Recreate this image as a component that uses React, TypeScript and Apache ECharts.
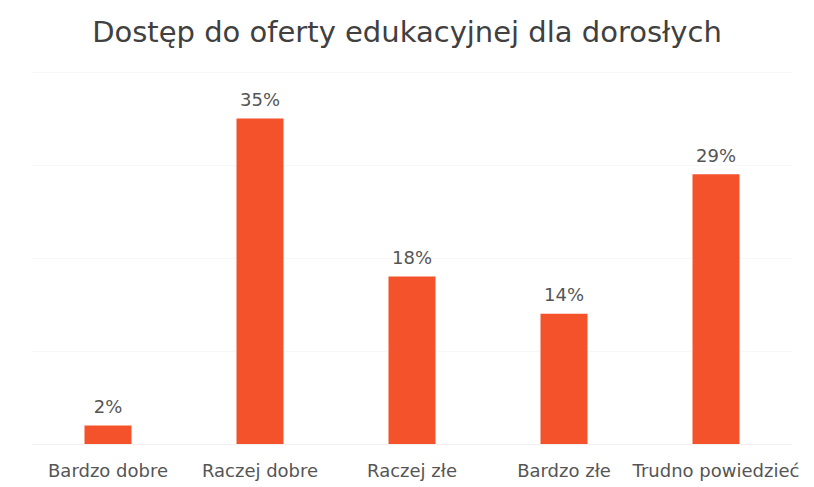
import React, { useEffect, useRef } from "react";
import * as echarts from "echarts";

const categories = ["Bardzo dobre", "Raczej dobre", "Raczej złe", "Bardzo złe", "Trudno powiedzieć"];
const values = [2, 35, 18, 14, 29];
const titleText = "Dostęp do oferty edukacyjnej dla dorosłych";

export default function App() {
  const ref = useRef<HTMLDivElement>(null);
  useEffect(() => {
    if (!ref.current) return;
    const chart = echarts.init(ref.current, null, { renderer: "svg" });
    const font = "'DejaVu Sans', 'Noto Sans', sans-serif";
    chart.setOption({
      animation: false,
      backgroundColor: "#ffffff",
      title: {
        text: titleText,
        left: "center",
        top: 12,
        textStyle: { fontFamily: font, fontSize: 29, fontWeight: "normal", color: "#404040" },
      },
      grid: { left: 32, right: 22, top: 72, bottom: 43, containLabel: false },
      xAxis: {
        type: "category",
        data: categories,
        axisLine: { show: true, lineStyle: { color: "#f0f0f0" } },
        axisTick: { show: false },
        axisLabel: { fontFamily: font, fontSize: 18, color: "#555555", margin: 17, interval: 0 },
      },
      yAxis: {
        type: "value",
        min: 0,
        max: 40,
        interval: 10,
        axisLabel: { show: false },
        axisLine: { show: false },
        axisTick: { show: false },
        splitLine: { show: true, lineStyle: { color: "#f8f8f8" } },
      },
      series: [
        {
          type: "bar",
          data: values,
          barWidth: 47,
          itemStyle: { color: "#F4522B" },
          label: {
            show: true,
            position: "top",
            distance: 10,
            formatter: "{c}%",
            fontFamily: font,
            fontSize: 18,
            color: "#555555",
          },
        },
      ],
    });
    return () => chart.dispose();
  }, []);
  return (
    <div
      ref={ref}
      style={{ position: "absolute", left: 0, top: 0, width: 814, height: 487 }}
    />
  );
}
